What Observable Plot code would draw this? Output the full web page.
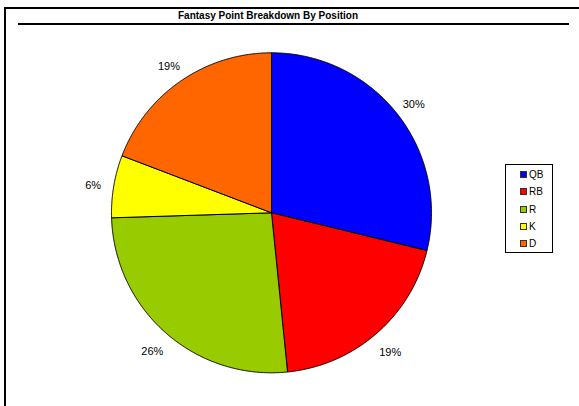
<!DOCTYPE html>
<html>
<head>
<meta charset="utf-8">
<script src="https://cdn.jsdelivr.net/npm/d3@7"></script>
<script src="https://cdn.jsdelivr.net/npm/@observablehq/plot@0.6"></script>
<style>
  html, body { margin: 0; padding: 0; background: white; }
  body { font-family: "Liberation Sans", Arial, sans-serif; }
  #wrap { position: relative; width: 579px; height: 406px; overflow: hidden; }
  #chart { position: absolute; left: 0; top: 0; }
  #frame { position: absolute; left: 4px; top: 7px; width: 580px; height: 410px;
           border-top: 2px solid #000; border-left: 2px solid #000; box-sizing: border-box; }
  #title { position: absolute; left: 18px; top: 10px; width: 551px; height: 15px;
           border-bottom: 2px solid #000; box-sizing: border-box; }
  #title span { position: absolute; left: 0; width: 500px; text-align: center;
           font-weight: bold; font-size: 10px; top: 0px; line-height: 11px; color: #000; }
  #legend { position: absolute; left: 505px; top: 164px; width: 48px; height: 89px;
           border: 1px solid #000; box-sizing: border-box; background: white; }
  .item { position: absolute; left: 14px; font-size: 10px; line-height: 10px; color: #000; }
  .sw { display: inline-block; width: 5px; height: 5px; border: 1px solid #333;
        vertical-align: 0px; margin-right: 2px; }
</style>
</head>
<body>
<div id="wrap">
  <div id="chart"></div>
  <div id="frame"></div>
  <div id="title"><span>Fantasy Point Breakdown By Position</span></div>
  <div id="legend"></div>
</div>
<script>
const positions = ["QB", "RB", "R", "K", "D"];
const shares = [28.8, 19.6, 26.1, 6.3, 19.2];
const pctLabels = ["30%", "19%", "26%", "6%", "19%"];
const colors = ["#0000FF", "#FF0000", "#99CC00", "#FFFF00", "#FF6600"];

const arcs = d3.pie().sort(null).value(d => d)(shares);
const pts = [];
const lbls = [];
arcs.forEach((a, i) => {
  const pos = positions[i];
  pts.push({pos, x: 0, y: 0});
  const n = Math.max(2, Math.ceil((a.endAngle - a.startAngle) / 0.005));
  for (let k = 0; k <= n; k++) {
    const t = a.startAngle + (a.endAngle - a.startAngle) * k / n;
    pts.push({pos, x: Math.sin(t), y: Math.cos(t)});
  }
  pts.push({pos, x: 0, y: 0});
  const m = (a.startAngle + a.endAngle) / 2;
  lbls.push({x: 1.13 * Math.sin(m), y: 1.13 * Math.cos(m), text: pctLabels[i]});
});

const chart = Plot.plot({
  width: 579,
  height: 406,
  margin: 0,
  style: {background: "transparent", fontFamily: "Liberation Sans, Arial, sans-serif"},
  x: {domain: [-1, 1], range: [111, 431], axis: null},
  y: {domain: [-1, 1], range: [372.3, 52.3], axis: null},
  color: {domain: positions, range: colors},
  marks: [
    Plot.line(pts, {x: "x", y: "y", z: "pos", fill: "pos", stroke: "#000", strokeWidth: 1, strokeLinejoin: "round"}),
    Plot.text(lbls, {x: "x", y: "y", text: "text", fontSize: 11, fill: "black", dy: 3})
  ]
});
document.getElementById("chart").appendChild(chart);

const legend = document.getElementById("legend");
positions.forEach((p, i) => {
  const it = document.createElement("div");
  it.className = "item";
  it.style.top = (5 + i * 17.3) + "px";
  const sw = document.createElement("span");
  sw.className = "sw";
  sw.style.background = colors[i];
  it.appendChild(sw);
  it.appendChild(document.createTextNode(p));
  legend.appendChild(it);
});
</script>
</body>
</html>
